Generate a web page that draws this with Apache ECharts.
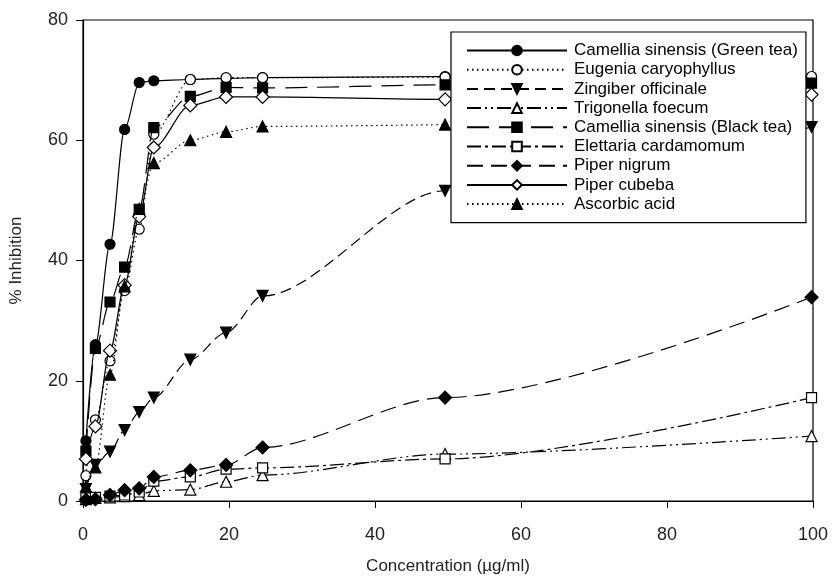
<!DOCTYPE html>
<html>
<head>
<meta charset="utf-8">
<script src="https://cdn.jsdelivr.net/npm/echarts@6/dist/echarts.min.js"></script>
<style>html,body{margin:0;padding:0;background:#fff}#c{width:832px;height:580px}</style>
</head>
<body>
<div id="c"></div>
<script>
// Concentrations (µg/ml), as placed in the picture
const conc = [0.4, 1.7, 3.7, 5.7, 7.7, 9.7, 14.7, 19.6, 24.6, 49.6, 99.8];
const seriesNames = [
  'Camellia sinensis (Green tea)',
  'Eugenia caryophyllus',
  'Zingiber officinale',
  'Trigonella foecum',
  'Camellia sinensis (Black tea)',
  'Elettaria cardamomum',
  'Piper nigrum',
  'Piper cubeba',
  'Ascorbic acid'
];
const greenTea   = [10.0, 26.0, 42.7, 61.8, 69.6, 69.9, 70.1, 70.3, 70.4, 70.6, 70.3];
const eugenia    = [4.2, 13.5, 23.3, 35.0, 45.2, 61.0, 70.1, 70.4, 70.4, 70.5, 70.6];
const zingiber   = [2.0, 6.0, 8.2, 11.8, 14.8, 17.2, 23.5, 28.0, 34.1, 51.6, 62.2];
const trigonella = [0.3, 0.5, 0.6, 0.8, 1.0, 1.7, 1.9, 3.2, 4.3, 7.8, 10.8];
const blackTea   = [8.3, 25.4, 33.1, 38.9, 48.5, 62.1, 67.3, 68.8, 68.7, 69.2, 69.5];
const elettaria  = [0.5, 0.6, 0.8, 1.0, 1.5, 3.3, 4.0, 5.3, 5.5, 7.0, 17.2];
const piperNig   = [0.2, 0.3, 1.0, 1.8, 2.1, 4.0, 5.1, 6.0, 8.9, 17.2, 33.9];
const piperCub   = [7.0, 12.4, 25.0, 35.9, 47.3, 58.8, 65.8, 67.2, 67.2, 66.8, 67.6];
const ascorbic   = [2.4, 5.6, 21.0, 35.7, 48.6, 56.2, 60.0, 61.4, 62.3, 62.6, null];

const xTicks = [0, 20, 40, 60, 80, 100];
const yTicks = [0, 20, 40, 60, 80];

const values = [greenTea, eugenia, zingiber, trigonella, blackTea, elettaria, piperNig, piperCub, ascorbic];
const styles = [
  {sym:'circle', size:10, fill:true, dash:'solid', rot:0},
  {sym:'circle', size:10, fill:false, dash:[1.5,3.5], rot:0},
  {sym:'triangle', size:11, fill:true, dash:[11,6], rot:180},
  {sym:'triangle', size:11, fill:false, dash:[14,4,2,4,2,4], rot:0},
  {sym:'rect', size:10, fill:true, dash:[22,10], rot:0},
  {sym:'rect', size:10, fill:false, dash:[14,4,3,4], rot:0},
  {sym:'diamond', size:13, fill:true, dash:[16,8], rot:0},
  {sym:'diamond', size:13, fill:false, dash:'solid', rot:0},
  {sym:'triangle', size:11, fill:true, dash:[1.5,3.5], rot:0}
];

const series = seriesNames.map((name, i) => {
  const s = styles[i];
  return {
    name: name,
    type: 'line',
    smooth: 0.3,
    smoothMonotone: 'x',
    symbol: s.sym,
    symbolSize: s.size,
    symbolRotate: s.rot,
    showAllSymbol: true,
    clip: false,
    data: conc.map((c, j) => values[i][j] == null ? null : [c, values[i][j]]).filter(d => d),
    lineStyle: {color: '#000', width: 1.2, type: s.dash},
    itemStyle: {color: s.fill ? '#000' : '#fff', borderColor: '#000', borderWidth: 1.2},
    emphasis: {disabled: true},
    z: 3 + i
  };
});

const chart = echarts.init(document.getElementById('c'), null, {renderer: 'canvas'});
chart.setOption({
  animation: false,
  backgroundColor: '#fff',
  textStyle: {fontFamily: 'Liberation Sans'},
  grid: {left: 81, right: 19, top: 20, bottom: 67, show: true, borderColor: '#000', borderWidth: 1.2, backgroundColor: 'transparent'},
  legend: {
    data: seriesNames,
    orient: 'vertical',
    left: 451, top: 32,
    padding: [10, 8, 10, 15],
    backgroundColor: '#fff',
    borderColor: '#000',
    borderWidth: 1.2,
    itemWidth: 100,
    itemHeight: 12,
    itemGap: 2.2,
    textStyle: {fontFamily: 'Liberation Sans', fontSize: 17, color: '#000', padding: [0,0,0,2]},
    z: 20
  },
  xAxis: {
    type: 'value', min: 0, max: 100, interval: 20,
    name: 'Concentration (µg/ml)', nameLocation: 'middle', nameGap: 57,
    nameTextStyle: {fontSize: 17, color: '#222', fontFamily: 'Liberation Sans'},
    axisLine: {lineStyle: {color: '#000', width: 1.2}},
    axisTick: {show: true, inside: false, length: 7, lineStyle: {color: '#000'}},
    axisLabel: {fontSize: 18, color: '#222', margin: 25, formatter: v => xTicks.includes(v) ? String(v) : ''},
    splitLine: {show: false}
  },
  yAxis: {
    type: 'value', min: 0, max: 80, interval: 20,
    name: '% Inhibition', nameLocation: 'middle', nameGap: 58, nameRotate: 90,
    nameTextStyle: {fontSize: 17, color: '#222', fontFamily: 'Liberation Sans'},
    axisLine: {lineStyle: {color: '#000', width: 1.2}},
    axisTick: {show: true, inside: false, length: 7, lineStyle: {color: '#000'}},
    axisLabel: {fontSize: 18, color: '#222', margin: 15, formatter: v => yTicks.includes(v) ? String(v) : ''},
    splitLine: {show: false}
  },
  series: series
});
</script>
</body>
</html>
